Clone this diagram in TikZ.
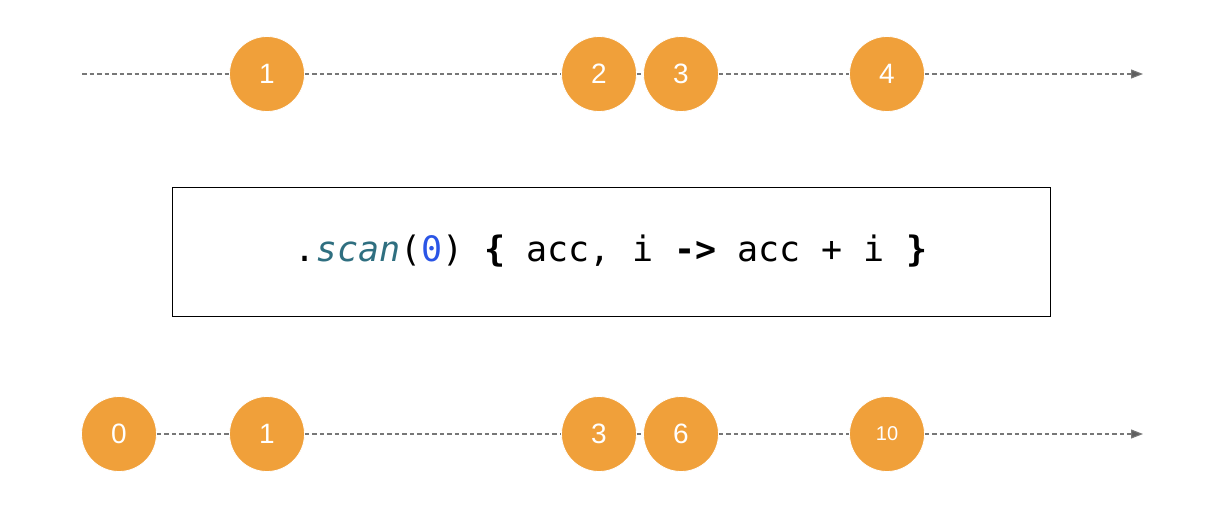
\documentclass[tikz,border=0pt]{standalone}
\usepackage{fontspec}
\setmainfont{Liberation Sans}
\setmonofont{DejaVu Sans Mono}
\usetikzlibrary{arrows.meta}
\definecolor{marble}{HTML}{F0A03A}
\definecolor{lineg}{HTML}{777777}
\definecolor{tipg}{HTML}{5F5F5F}
\definecolor{scanc}{HTML}{2F6F80}
\definecolor{zeroc}{HTML}{2A55E6}
\begin{document}
\begin{tikzpicture}[x=1pt,y=-1pt,
  marblenode/.style={circle,fill=marble,draw=white,line width=0.8pt,minimum size=75pt,inner sep=0pt,text=white,font=\fontsize{28}{28}\selectfont},
  smallmarble/.style={marblenode,font=\fontsize{20}{20}\selectfont},
  timeline/.style={draw=lineg,line width=1.1pt,dash pattern=on 4.5pt off 3pt},
  timearrow/.style={timeline,-{Triangle[length=12pt,width=9pt,fill=tipg]}},
  opbox/.style={draw=black,line width=0.9pt,minimum width=878pt,minimum height=129pt,inner sep=0pt,font=\fontsize{35}{35}\selectfont\ttfamily}]
\useasboundingbox (0,0) rectangle (1210,522);
% top timeline
\coordinate (ts) at (82,74);
\coordinate (te) at (1143,74);
\node[marblenode] (t1) at (267,74) {1};
\node[marblenode] (t2) at (599,74) {2};
\node[marblenode] (t3) at (681,74) {3};
\node[marblenode] (t4) at (887,74) {4};
% operator box
\node[opbox] (op) at (611,251.5) {.\textcolor{scanc}{\textit{scan}}(\textcolor{zeroc}{0}) \textbf{\{} acc, i \textbf{->} acc + i \textbf{\}}};
% bottom timeline
\coordinate (be) at (1143,434);
\node[marblenode] (b0) at (119,434) {0};
\node[marblenode] (b1) at (267,434) {1};
\node[marblenode] (b2) at (599,434) {3};
\node[marblenode] (b3) at (681,434) {6};
\node[smallmarble] (b4) at (887,434) {10};
% connectors
\draw[timeline] (ts) -- (t1);
\draw[timeline] (t1) -- (t2);
\draw[timeline] (t2) -- (t3);
\draw[timeline] (t3) -- (t4);
\draw[timearrow] (t4) -- (te);
\draw[timeline] (b0) -- (b1);
\draw[timeline] (b1) -- (b2);
\draw[timeline] (b2) -- (b3);
\draw[timeline] (b3) -- (b4);
\draw[timearrow] (b4) -- (be);
\end{tikzpicture}
\end{document}
